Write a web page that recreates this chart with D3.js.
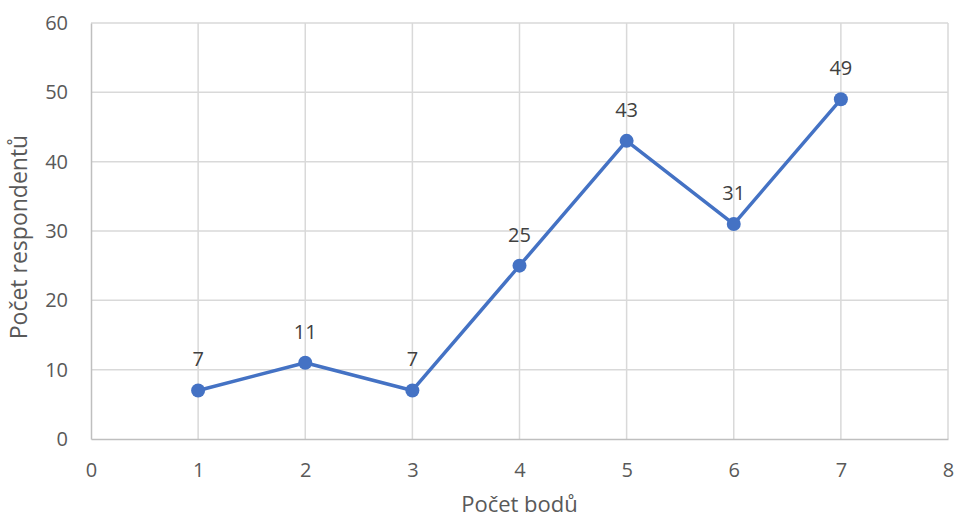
<!DOCTYPE html>
<html>
<head>
<meta charset="utf-8">
<script src="https://cdn.jsdelivr.net/npm/d3@7"></script>
<style>
  body { margin: 0; background: #fff; }
  text { font-family: "Open Sans", "Noto Sans", sans-serif; }
</style>
</head>
<body>
<div id="chart"></div>
<script>
var svgWidth = 954, svgHeight = 519;
var margin = { top: 23, right: 6, bottom: 80, left: 91 };
var width = svgWidth - margin.left - margin.right;
var height = svgHeight - margin.top - margin.bottom;

// data
var xValues = [1, 2, 3, 4, 5, 6, 7];
var yValues = [7, 11, 7, 25, 43, 31, 49];
var xTicks = [0, 1, 2, 3, 4, 5, 6, 7, 8];
var yTicks = [0, 10, 20, 30, 40, 50, 60];

var svg = d3.select('#chart').append("svg")
    .attr("width", svgWidth)
    .attr("height", svgHeight)
    .append("g")
    .attr("transform", "translate(" + margin.left + "," + margin.top + ")");

var xScale = d3.scaleLinear().domain([0, 8]).range([0, width]);
var yScale = d3.scaleLinear().domain([0, 60]).range([height, 0]);

// gridlines
svg.append("g")
    .selectAll("line.vg")
    .data(xTicks.slice(1))
    .enter().append("line")
    .attr("x1", function(d) { return xScale(d); })
    .attr("x2", function(d) { return xScale(d); })
    .attr("y1", 0).attr("y2", height)
    .attr("stroke", "#d9d9d9").attr("stroke-width", 1.5);

svg.append("g")
    .selectAll("line.hg")
    .data(yTicks.slice(1))
    .enter().append("line")
    .attr("x1", 0).attr("x2", width)
    .attr("y1", function(d) { return yScale(d); })
    .attr("y2", function(d) { return yScale(d); })
    .attr("stroke", "#d9d9d9").attr("stroke-width", 1.5);

// axes
var xAxis = svg.append("g")
    .attr("transform", "translate(0," + height + ")")
    .call(d3.axisBottom(xScale).tickValues(xTicks).tickSize(0).tickPadding(24));

var yAxis = svg.append("g")
    .call(d3.axisLeft(yScale).tickValues(yTicks).tickSize(0).tickPadding(23));

svg.selectAll('.domain')
    .style('stroke', '#bfbfbf')
    .style('stroke-width', '1.5px');
svg.selectAll('.tick text')
    .style('fill', '#595959')
    .style('font-size', '20px')
    .style('font-family', '"Open Sans", sans-serif');

// line
var line = d3.line()
    .x(function(d, i) { return xScale(xValues[i]); })
    .y(function(d) { return yScale(d); });

svg.append("path")
    .datum(yValues)
    .attr("fill", "none")
    .attr("stroke", "#4472C4")
    .attr("stroke-width", 3.5)
    .attr("stroke-linejoin", "round")
    .attr("d", line);

svg.selectAll(".dot")
    .data(yValues)
    .enter().append("circle")
    .attr("class", "dot")
    .attr("cx", function(d, i) { return xScale(xValues[i]); })
    .attr("cy", function(d) { return yScale(d); })
    .attr("r", 7)
    .attr("fill", "#4472C4");

// data labels
svg.selectAll(".label")
    .data(yValues)
    .enter().append("text")
    .attr("class", "label")
    .attr("x", function(d, i) { return xScale(xValues[i]); })
    .attr("y", function(d) { return yScale(d) - 24; })
    .attr("text-anchor", "middle")
    .attr("fill", "#404040")
    .style("font-size", "20px")
    .text(function(d) { return d; });

// axis titles
svg.append("text")
    .attr("x", width / 2)
    .attr("y", height + 73)
    .attr("text-anchor", "middle")
    .attr("fill", "#595959")
    .style("font-size", "22px")
    .text("Počet bodů");

svg.append("text")
    .attr("transform", "rotate(-90)")
    .attr("x", -height / 2 - 6)
    .attr("y", -margin.left + 27)
    .attr("text-anchor", "middle")
    .attr("fill", "#595959")
    .style("font-size", "23px")
    .text("Počet respondentů");
</script>
</body>
</html>
